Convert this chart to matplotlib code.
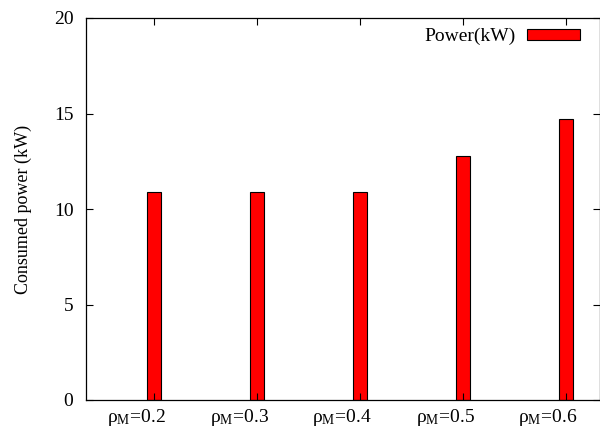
import matplotlib
matplotlib.use("Agg")
import matplotlib.pyplot as plt
import matplotlib.transforms as mtransforms

categories = ["0.2", "0.3", "0.4", "0.5", "0.6"]
power_kw = [10.87, 10.87, 10.87, 12.79, 14.71]

plt.rcParams['font.family'] = ['Liberation Serif', 'DejaVu Serif']
plt.rcParams['mathtext.fontset'] = 'custom'
plt.rcParams['mathtext.rm'] = 'Liberation Serif'
plt.rcParams['mathtext.it'] = 'Liberation Serif:italic'

fig = plt.figure(figsize=(6, 4.3), dpi=100)
ax = fig.add_axes([86/600, 30/430, (600-86)/600, (400-18)/430])

x = list(range(len(categories)))
ax.bar(x, power_kw, width=0.136, color='#ff0000', edgecolor='black',
       linewidth=0.8, label='Power(kW)')

ax.set_xlim(-0.665, 4.33)
ax.set_ylim(0, 20)
ax.set_yticks([0, 5, 10, 15, 20])
ax.set_xticks(x)
ax.set_xticklabels(['ρ$_\\mathrm{M}$=' + c for c in categories])
ax.tick_params(direction='in', length=5, width=0.8, top=True, right=True,
               labelsize=14, colors='black')
ax.tick_params(axis='x', pad=5)
ax.tick_params(axis='y', pad=9)
offset = mtransforms.ScaledTranslation(-18/100, 0, fig.dpi_scale_trans)
for lbl in ax.get_xticklabels():
    lbl.set_transform(lbl.get_transform() + offset)
for s in ax.spines.values():
    s.set_linewidth(0.9)
ax.set_ylabel('Consumed power (kW)', fontsize=13, labelpad=16)

leg = ax.legend(loc='upper right', bbox_to_anchor=(0.983, 1.005), frameon=False,
                fontsize=14, markerfirst=False, handlelength=2.7,
                handleheight=0.5, handletextpad=0.6, borderaxespad=0.2)

fig.savefig('out.png', dpi=100)
